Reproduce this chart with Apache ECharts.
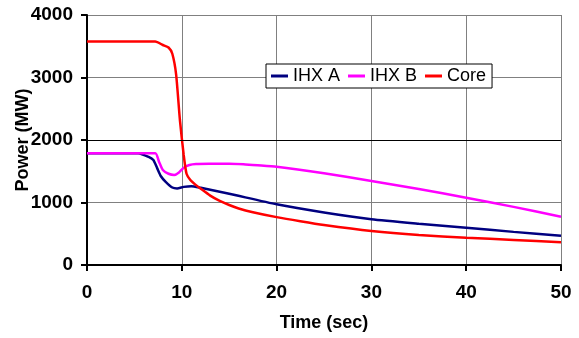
<!DOCTYPE html>
<html>
<head>
<meta charset="utf-8">
<script src="https://cdn.jsdelivr.net/npm/echarts@6/dist/echarts.min.js"></script>
<style>
  html, body { margin: 0; padding: 0; background: #fff; }
  #chart { width: 579px; height: 338px; }
</style>
</head>
<body>
<div id="chart"></div>
<script>
// time (sec) and power (MW)
const coreTime = [0, 7.2, 8.0, 8.6, 9.0, 9.4, 9.8, 10.2, 10.5, 10.9, 11.4, 12, 13, 14, 15, 16, 17.5, 20, 22.5, 25, 30, 35, 40, 45, 50]
const coreVal = [3575, 3575, 3520, 3480, 3380, 3050, 2320, 1760, 1460, 1360, 1290, 1220, 1110, 1025, 960, 905, 845, 766, 700, 640, 545, 480, 437, 400, 365]

const ihxATime = [0, 5.4, 6.5, 7.0, 7.4, 7.8, 8.3, 9.0, 9.5, 10.2, 11.0, 12, 15, 20, 25, 30, 35, 40, 45, 50]
const ihxAVal = [1790, 1790, 1730, 1680, 1550, 1420, 1330, 1240, 1225, 1250, 1262, 1235, 1140, 971, 840, 731, 660, 597, 530, 469]

const ihxBTime = [0, 7.2, 7.6, 8.0, 8.6, 9.2, 9.7, 10.2, 10.8, 11.5, 13, 15, 16.5, 18, 20, 25, 30, 35, 40, 45, 50]
const ihxBVal = [1790, 1790, 1650, 1520, 1460, 1440, 1480, 1557, 1600, 1616, 1620, 1621, 1613, 1597, 1573, 1467, 1344, 1215, 1077, 930, 773]

const xTicks = [0, 10, 20, 30, 40, 50]
const yTicks = [0, 1000, 2000, 3000, 4000]

const pairs = (t, v) => t.map((x, i) => [x, v[i]])
const font = 'Arial, "Liberation Sans", sans-serif'

const chart = echarts.init(document.getElementById('chart'), null, { renderer: 'canvas' })

const option = {
  backgroundColor: '#fff',
  animation: false,
  grid: {
    left: 87,
    right: 18,
    top: 15,
    bottom: 73,
    containLabel: false,
    outerBoundsMode: 'none'
  },
  legend: {
    left: 266,
    top: 64,
    padding: [3, 6, 3, 5],
    itemGap: 8,
    itemWidth: 17,
    itemHeight: 3,
    icon: 'rect',
    backgroundColor: '#fff',
    borderColor: '#000',
    borderWidth: 1,
    borderRadius: 0,
    textStyle: { fontFamily: font, fontSize: 18, color: '#000' },
    data: ['IHX A', 'IHX B', 'Core']
  },
  xAxis: {
    type: 'value',
    min: xTicks[0],
    max: xTicks[xTicks.length - 1],
    interval: 10,
    name: 'Time (sec)',
    nameLocation: 'middle',
    nameGap: 49,
    nameMoveOverlap: false,
    nameTextStyle: { fontFamily: font, fontSize: 18, fontWeight: 'bold', color: '#000' },
    axisLine: { show: true, lineStyle: { color: '#000', width: 2 } },
    axisTick: { show: true, length: 6, lineStyle: { color: '#000', width: 2 } },
    axisLabel: { margin: 18, fontFamily: font, fontSize: 19, fontWeight: 'bold', color: '#000' },
    splitLine: { show: true, lineStyle: { color: '#808080', width: 1 } }
  },
  yAxis: {
    type: 'value',
    min: yTicks[0],
    max: yTicks[yTicks.length - 1],
    interval: 1000,
    name: 'Power (MW)',
    nameLocation: 'middle',
    nameGap: 55,
    nameMoveOverlap: false,
    nameTextStyle: { fontFamily: font, fontSize: 18, fontWeight: 'bold', color: '#000' },
    axisLine: { show: true, lineStyle: { color: '#000', width: 2 } },
    axisTick: { show: true, length: 6, lineStyle: { color: '#000', width: 2 } },
    axisLabel: {
      margin: 14,
      fontFamily: font,
      fontSize: 19,
      fontWeight: 'bold',
      color: '#000',
      formatter: (v) => String(v)
    },
    splitLine: { show: true, lineStyle: { color: '#808080', width: 1 } }
  },
  series: [
    {
      name: 'IHX A',
      type: 'line',
      symbol: 'none',
      smooth: 0.2,
      z: 3,
      lineStyle: { color: '#000080', width: 2.5 },
      itemStyle: { color: '#000080' },
      data: pairs(ihxATime, ihxAVal),
      markLine: {
        silent: true,
        symbol: 'none',
        label: { show: false },
        lineStyle: { color: '#000', width: 1, type: 'solid' },
        data: [{ yAxis: 2000 }]
      }
    },
    {
      name: 'IHX B',
      type: 'line',
      symbol: 'none',
      smooth: 0.2,
      z: 3,
      lineStyle: { color: '#ff00ff', width: 2.5 },
      itemStyle: { color: '#ff00ff' },
      data: pairs(ihxBTime, ihxBVal)
    },
    {
      name: 'Core',
      type: 'line',
      symbol: 'none',
      smooth: 0.2,
      z: 4,
      lineStyle: { color: '#ff0000', width: 2.5 },
      itemStyle: { color: '#ff0000' },
      data: pairs(coreTime, coreVal)
    }
  ]
}

chart.setOption(option)
</script>
</body>
</html>
